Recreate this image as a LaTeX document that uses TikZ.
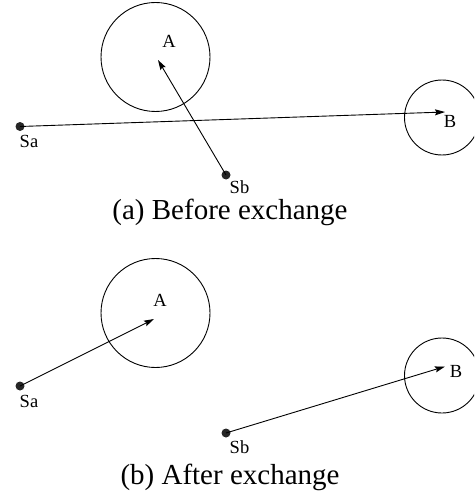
\documentclass[tikz,border=0pt]{standalone}
\usepackage{fontspec}
\setmainfont{Liberation Serif}
\usetikzlibrary{arrows.meta}
\tikzset{
  zone/.style={draw,circle,line width=0.9pt,inner sep=0pt},
  src/.style={circle,fill=black!85,inner sep=0pt,minimum size=9pt},
  lbl/.style={inner sep=0pt,font=\fontsize{18.5}{22}\selectfont},
  captext/.style={inner sep=0pt,text height=19pt,text depth=6pt,font=\fontsize{29}{34}\selectfont},
  mv/.style={line width=0.9pt,-{Stealth[length=10pt,width=6pt,inset=1.5pt]}}
}
\begin{document}
\begin{tikzpicture}[x=1pt,y=-1pt]
\clip (0,0) rectangle (474,492);
% ---------- (a) ----------
\node[zone,minimum size=109pt] (A1) at (155.5,57) {};
\node[zone,minimum size=75pt] (B1) at (442,117.5) {};
\node[lbl] (lA1) at (169,41) {A};
\node[lbl] (lB1) at (450,121) {B};
\node[src] (Sa1) at (20,126.5) {};
\node[src] (Sb1) at (226,175) {};
\node[lbl] (lSa1) at (29,141) {Sa};
\node[lbl] (lSb1) at (239.5,187) {Sb};
\coordinate (tA1) at (158,60);
\coordinate (tB1) at (445,112);
\draw[mv] (Sa1.center) -- (tB1);
\draw[mv] (Sb1.center) -- (tA1);
\node[captext] (capa) at (230,213) {(a) Before exchange};
% ---------- (b) ----------
\node[zone,minimum size=109pt] (A2) at (155.5,313) {};
\node[zone,minimum size=75pt] (B2) at (442,375.5) {};
\node[lbl] (lA2) at (160,300) {A};
\node[lbl] (lB2) at (456,371) {B};
\node[src] (Sa2) at (20,386) {};
\node[src] (Sb2) at (226,433) {};
\node[lbl] (lSa2) at (29,401) {Sa};
\node[lbl] (lSb2) at (239.5,447.5) {Sb};
\coordinate (tA2) at (154,319);
\coordinate (tB2) at (445,366.5);
\draw[mv] (Sa2.center) -- (tA2);
\draw[mv] (Sb2.center) -- (tB2);
\node[captext] (capb) at (230,477.5) {(b) After exchange};
\end{tikzpicture}
\end{document}
